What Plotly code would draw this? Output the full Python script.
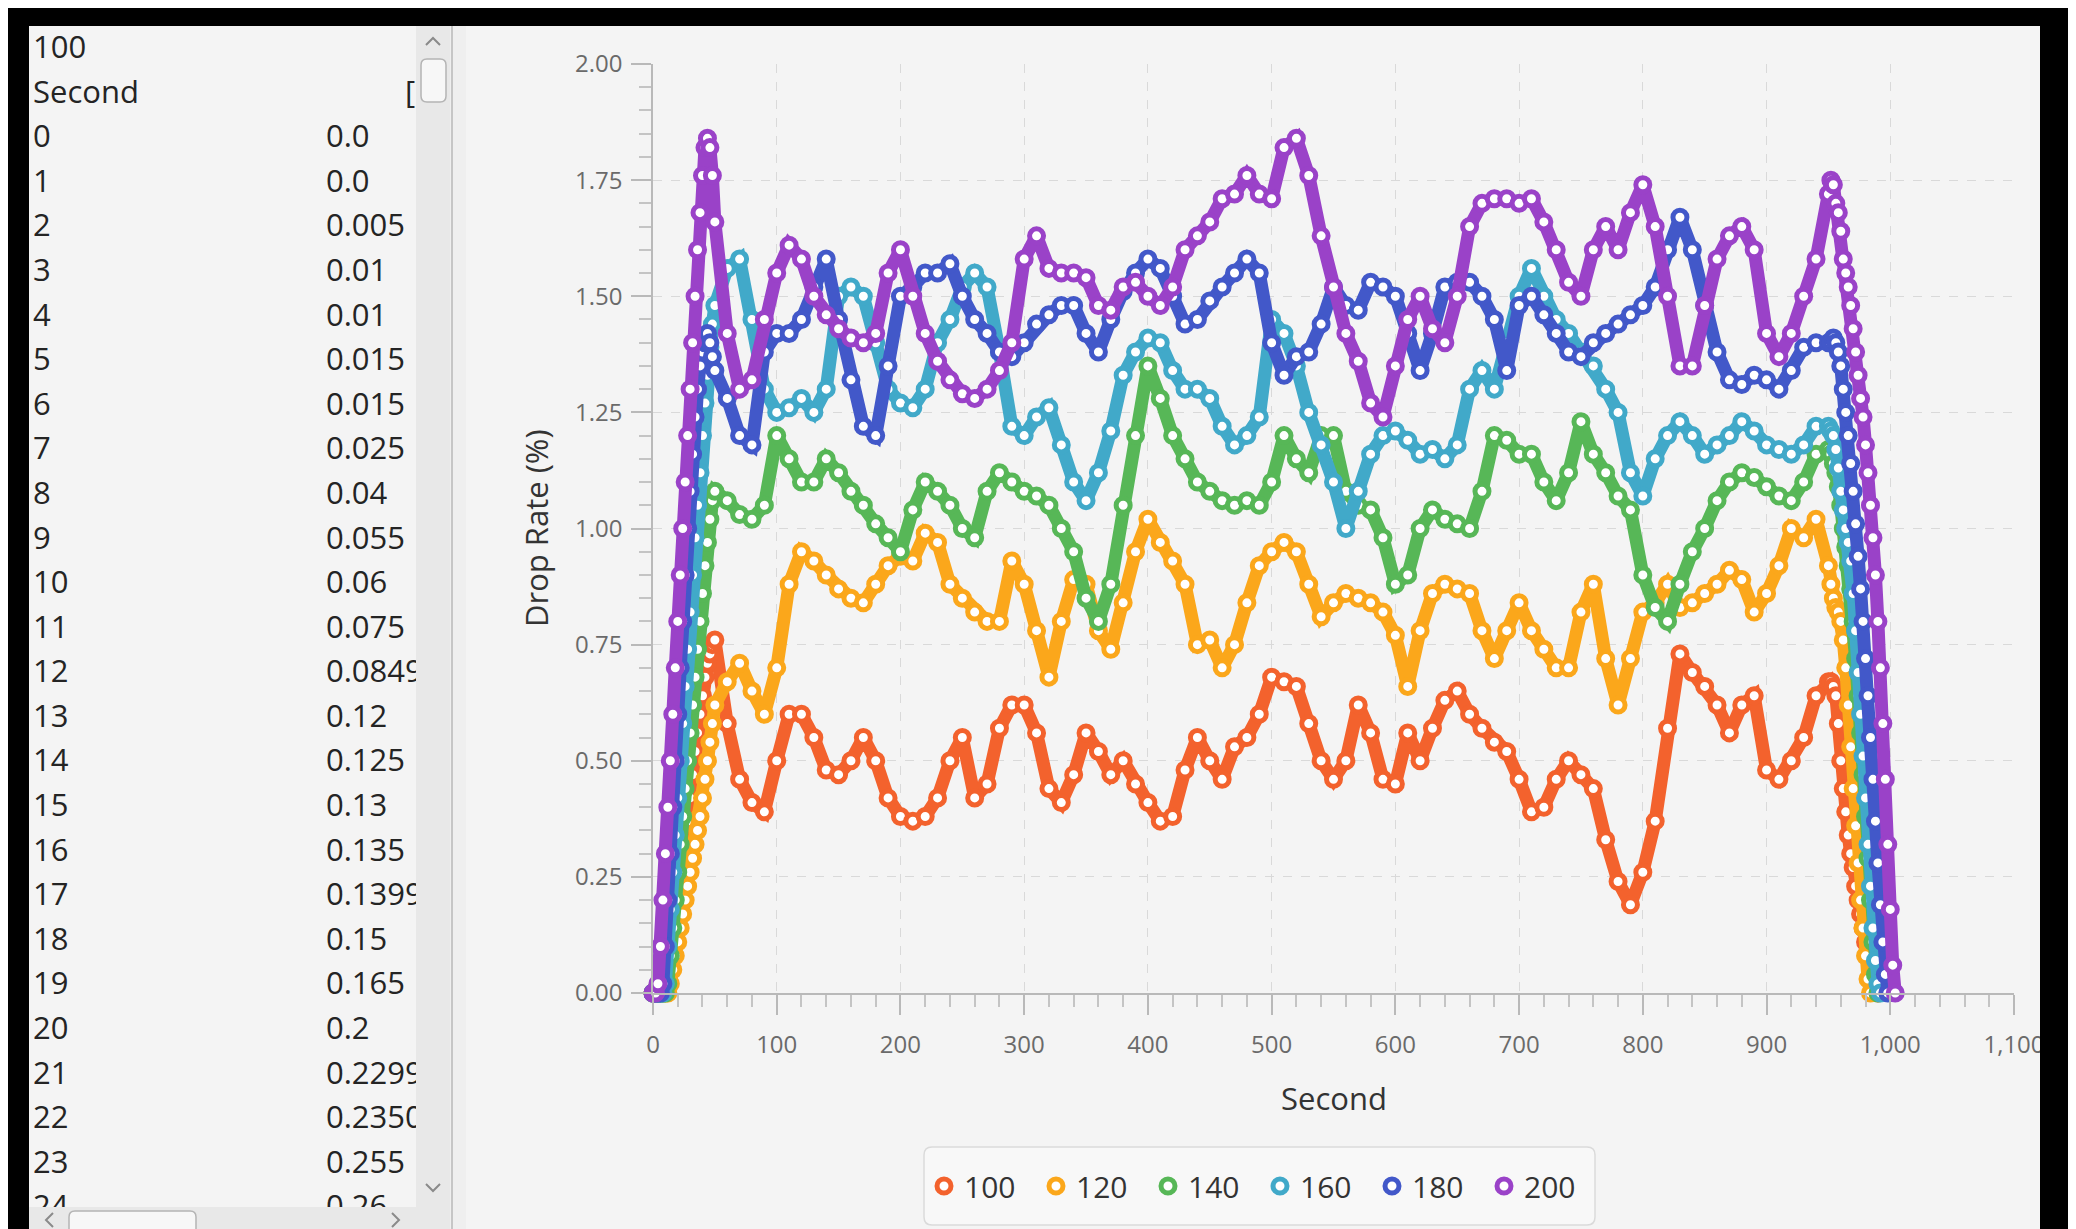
import plotly.graph_objects as go

W, H = 2076, 1229
OFF = 8  # the page body margin shifts the figure by 8 px; layout below is given in page pixels

# ---------------- data ----------------
# sampling: 2 s during ramp-up, 10 s in the middle, 2 s during ramp-down
seconds = list(range(0, 50, 2)) + list(range(50, 950, 10)) + list(range(950, 1005, 2))

series_names = ["100", "120", "140", "160", "180", "200"]
series_colors = ["#f3622d", "#fba71b", "#57b757", "#41a9c9", "#4258c9", "#9a42c8"]

drop_100 = [
    0.0, 0.005, 0.01, 0.015, 0.04, 0.06, 0.0849, 0.125, 0.135, 0.15, 0.2, 0.235, 0.26,
    0.32, 0.37, 0.42, 0.47, 0.52, 0.56, 0.6, 0.64, 0.68, 0.71, 0.73, 0.75,
    0.76, 0.58, 0.46, 0.41, 0.39, 0.5, 0.6, 0.6, 0.55, 0.48,
    0.47, 0.5, 0.55, 0.5, 0.42, 0.38, 0.37, 0.38, 0.42, 0.5,
    0.55, 0.42, 0.45, 0.57, 0.62, 0.62, 0.56, 0.44, 0.41, 0.47,
    0.56, 0.52, 0.47, 0.5, 0.45, 0.41, 0.37, 0.38, 0.48, 0.55,
    0.5, 0.46, 0.53, 0.55, 0.6, 0.68, 0.67, 0.66, 0.58, 0.5,
    0.46, 0.5, 0.62, 0.56, 0.46, 0.45, 0.56, 0.5, 0.57, 0.63,
    0.65, 0.6, 0.57, 0.54, 0.52, 0.46, 0.39, 0.4, 0.46, 0.5,
    0.47, 0.44, 0.33, 0.24, 0.19, 0.26, 0.37, 0.57, 0.73, 0.69,
    0.66, 0.62, 0.56, 0.62, 0.64, 0.48, 0.46, 0.5, 0.55, 0.64,
    0.67, 0.67, 0.66, 0.64, 0.58, 0.5, 0.44, 0.39, 0.34, 0.3, 0.27, 0.23, 0.2, 0.17,
    0.14, 0.11, 0.08, 0.06, 0.04, 0.02, 0.0, None, None, None, None, None, None, None,
]
drop_120 = [
    0, 0, 0, 0, 0, 0, 0, 0.02, 0.05, 0.08, 0.11, 0.14, 0.17,
    0.2, 0.23, 0.26, 0.29, 0.32, 0.35, 0.38, 0.42, 0.46, 0.5, 0.54, 0.58,
    0.62, 0.67, 0.71, 0.65, 0.6, 0.7, 0.88, 0.95, 0.93, 0.9,
    0.87, 0.85, 0.84, 0.88, 0.92, 0.94, 0.93, 0.99, 0.97, 0.88,
    0.85, 0.82, 0.8, 0.8, 0.93, 0.88, 0.78, 0.68, 0.8, 0.89,
    0.88, 0.78, 0.74, 0.84, 0.95, 1.02, 0.97, 0.93, 0.88, 0.75,
    0.76, 0.7, 0.75, 0.84, 0.92, 0.95, 0.97, 0.95, 0.88, 0.81,
    0.84, 0.86, 0.85, 0.84, 0.82, 0.77, 0.66, 0.78, 0.86, 0.88,
    0.87, 0.86, 0.78, 0.72, 0.78, 0.84, 0.78, 0.74, 0.7, 0.7,
    0.82, 0.88, 0.72, 0.62, 0.72, 0.82, 0.84, 0.88, 0.83, 0.84,
    0.86, 0.88, 0.91, 0.89, 0.82, 0.86, 0.92, 1.0, 0.98, 1.02,
    0.92, 0.88, 0.85, 0.83, 0.82, 0.8, 0.76, 0.7, 0.62, 0.53, 0.44, 0.36, 0.28, 0.2,
    0.14, 0.08, 0.03, 0.0, None, None, None, None, None, None, None, None, None, None,
]
drop_140 = [
    0, 0, 0, 0, 0, 0, 0.02, 0.08, 0.14, 0.2, 0.26, 0.32, 0.38,
    0.44, 0.5, 0.56, 0.62, 0.68, 0.74, 0.8, 0.86, 0.92, 0.97, 1.02, 1.06,
    1.08, 1.06, 1.03, 1.02, 1.05, 1.2, 1.15, 1.1, 1.1, 1.15,
    1.12, 1.08, 1.05, 1.01, 0.98, 0.95, 1.04, 1.1, 1.08, 1.05,
    1.0, 0.98, 1.08, 1.12, 1.1, 1.08, 1.07, 1.05, 1.0, 0.95,
    0.85, 0.8, 0.88, 1.05, 1.2, 1.35, 1.28, 1.2, 1.15, 1.1,
    1.08, 1.06, 1.05, 1.06, 1.05, 1.1, 1.2, 1.15, 1.12, 1.2,
    1.2, 1.08, 1.05, 1.04, 0.98, 0.88, 0.9, 1.0, 1.04, 1.02,
    1.01, 1.0, 1.08, 1.2, 1.19, 1.16, 1.16, 1.1, 1.06, 1.12,
    1.23, 1.16, 1.12, 1.07, 1.04, 0.9, 0.83, 0.8, 0.88, 0.95,
    1.0, 1.06, 1.1, 1.12, 1.11, 1.09, 1.07, 1.06, 1.1, 1.16,
    1.17, 1.16, 1.14, 1.12, 1.09, 1.05, 1.0, 0.96, 0.92, 0.87, 0.8, 0.72, 0.64, 0.56,
    0.47, 0.38, 0.29, 0.2, 0.11, 0.04, 0.0, None, None, None, None, None, None, None,
]
drop_160 = [
    0, 0, 0, 0, 0, 0.02, 0.1, 0.18, 0.26, 0.34, 0.42, 0.5, 0.58,
    0.66, 0.74, 0.82, 0.9, 0.98, 1.05, 1.12, 1.2, 1.27, 1.33, 1.39, 1.44,
    1.48, 1.56, 1.58, 1.45, 1.3, 1.25, 1.26, 1.28, 1.25, 1.3,
    1.5, 1.52, 1.5, 1.4, 1.3, 1.27, 1.26, 1.3, 1.4, 1.45,
    1.52, 1.55, 1.52, 1.38, 1.22, 1.2, 1.24, 1.26, 1.18, 1.1,
    1.06, 1.12, 1.21, 1.33, 1.38, 1.41, 1.4, 1.34, 1.3, 1.3,
    1.28, 1.22, 1.18, 1.2, 1.24, 1.45, 1.42, 1.35, 1.25, 1.18,
    1.1, 1.0, 1.08, 1.16, 1.2, 1.21, 1.19, 1.16, 1.17, 1.15,
    1.18, 1.3, 1.34, 1.3, 1.4, 1.5, 1.56, 1.5, 1.45, 1.42,
    1.38, 1.35, 1.3, 1.25, 1.12, 1.07, 1.15, 1.2, 1.23, 1.2,
    1.16, 1.18, 1.2, 1.23, 1.21, 1.18, 1.17, 1.16, 1.18, 1.22,
    1.22, 1.21, 1.2, 1.17, 1.13, 1.08, 1.04, 1.0, 0.97, 0.93, 0.86, 0.78, 0.69, 0.6,
    0.51, 0.42, 0.32, 0.23, 0.14, 0.07, 0.02, 0.0, None, None, None, None, None, None,
]
drop_180 = [
    0, 0, 0, 0, 0.02, 0.1, 0.2, 0.3, 0.4, 0.5, 0.6, 0.7, 0.8,
    0.9, 1.0, 1.08, 1.16, 1.24, 1.3, 1.35, 1.38, 1.4, 1.42, 1.4, 1.37,
    1.34, 1.28, 1.2, 1.18, 1.38, 1.42, 1.42, 1.45, 1.52, 1.58,
    1.45, 1.32, 1.22, 1.2, 1.35, 1.5, 1.52, 1.55, 1.55, 1.57,
    1.5, 1.45, 1.42, 1.38, 1.37, 1.4, 1.44, 1.46, 1.48, 1.48,
    1.42, 1.38, 1.45, 1.51, 1.55, 1.58, 1.56, 1.5, 1.44, 1.45,
    1.49, 1.52, 1.55, 1.58, 1.55, 1.4, 1.33, 1.37, 1.38, 1.44,
    1.52, 1.48, 1.47, 1.53, 1.52, 1.5, 1.42, 1.34, 1.42, 1.52,
    1.53, 1.53, 1.5, 1.45, 1.34, 1.48, 1.5, 1.46, 1.42, 1.38,
    1.37, 1.4, 1.42, 1.44, 1.46, 1.48, 1.52, 1.6, 1.67, 1.6,
    1.48, 1.38, 1.32, 1.31, 1.33, 1.32, 1.3, 1.34, 1.39, 1.4,
    1.4, 1.4, 1.41, 1.4, 1.38, 1.35, 1.3, 1.25, 1.2, 1.14, 1.08, 1.01, 0.94, 0.87,
    0.8, 0.72, 0.64, 0.55, 0.46, 0.37, 0.28, 0.19, 0.11, 0.04, 0.0, None, None, None,
]
drop_200 = [
    0, 0, 0.02, 0.1, 0.2, 0.3, 0.4, 0.5, 0.6, 0.7, 0.8, 0.9, 1.0,
    1.1, 1.2, 1.3, 1.4, 1.5, 1.6, 1.68, 1.76, 1.82, 1.84, 1.82, 1.76,
    1.66, 1.42, 1.3, 1.32, 1.45, 1.55, 1.61, 1.58, 1.5, 1.46,
    1.43, 1.41, 1.4, 1.42, 1.55, 1.6, 1.5, 1.42, 1.36, 1.32,
    1.29, 1.28, 1.3, 1.34, 1.4, 1.58, 1.63, 1.56, 1.55, 1.55,
    1.54, 1.48, 1.47, 1.52, 1.53, 1.5, 1.48, 1.52, 1.6, 1.63,
    1.66, 1.71, 1.72, 1.76, 1.72, 1.71, 1.82, 1.84, 1.76, 1.63,
    1.52, 1.42, 1.36, 1.27, 1.24, 1.35, 1.45, 1.5, 1.43, 1.4,
    1.5, 1.65, 1.7, 1.71, 1.71, 1.7, 1.71, 1.66, 1.6, 1.53,
    1.5, 1.6, 1.65, 1.6, 1.68, 1.74, 1.65, 1.5, 1.35, 1.35,
    1.48, 1.58, 1.63, 1.65, 1.6, 1.42, 1.37, 1.42, 1.5, 1.58,
    1.72, 1.75, 1.74, 1.7, 1.68, 1.64, 1.58, 1.55, 1.52, 1.48, 1.43, 1.38, 1.33, 1.28,
    1.24, 1.18, 1.12, 1.05, 0.98, 0.9, 0.8, 0.7, 0.58, 0.46, 0.32, 0.18, 0.06, 0.0,
]
series_values = [drop_100, drop_120, drop_140, drop_160, drop_180, drop_200]

# table panel on the left (series "100")
table_title = "100"
table_header = "Second"
table_seconds = [str(i) for i in range(25)]
table_values = ["0.0", "0.0", "0.005", "0.01", "0.01", "0.015", "0.015", "0.025", "0.04",
                "0.055", "0.06", "0.075", "0.0849", "0.12", "0.125", "0.13", "0.135",
                "0.1399", "0.15", "0.165", "0.2", "0.2299", "0.2350", "0.255", "0.26"]

x_tick_step = 100
y_tick_step = 0.25

for v in series_values:
    assert len(v) == len(seconds), (len(v), len(seconds))

# ---------------- layout geometry (page pixels) ----------------
PL, PR, PT, PB = 653, 2014, 64, 993
FONT = "Open Sans, Noto Sans, sans-serif"
BG = "#f4f4f4"


def fx(p):  # page x -> paper fraction
    return (p - OFF) / W


def fy(p):  # page y -> paper fraction
    return 1 - (p - OFF) / H


fig = go.Figure()

for name, vals, col in zip(series_names, series_values, series_colors):
    # band standing in for the chart's dense per-second symbols
    fig.add_trace(go.Scatter(
        x=seconds, y=vals, mode="lines", name=name, legendgroup=name, showlegend=False,
        cliponaxis=False, hoverinfo="skip", xaxis="x", yaxis="y",
        line=dict(color=col, width=13),
    ))
    fig.add_trace(go.Scatter(
        x=seconds, y=vals, mode="markers", name=name, legendgroup=name, cliponaxis=False,
        xaxis="x", yaxis="y",
        marker=dict(symbol="circle", size=14, color="white",
                    line=dict(color=col, width=5)),
    ))

# table text (second axes pair spanning the whole page, in page-pixel units)
row_y0, row_dy = 50.3, 44.59
rows_left = [table_title, table_header] + table_seconds
fig.add_trace(go.Scatter(
    x=[33] * len(rows_left), y=[row_y0 + row_dy * i for i in range(len(rows_left))],
    mode="text", text=rows_left, textposition="middle right", xaxis="x2", yaxis="y2",
    showlegend=False, cliponaxis=True, hoverinfo="skip",
    textfont=dict(family=FONT, size=31, color="#242424"),
))
fig.add_trace(go.Scatter(
    x=[326] * len(table_values) + [405],
    y=[row_y0 + row_dy * (i + 2) for i in range(len(table_values))] + [row_y0 + row_dy],
    mode="text", text=table_values + ["["], textposition="middle right", xaxis="x2", yaxis="y2",
    showlegend=False, cliponaxis=True, hoverinfo="skip",
    textfont=dict(family=FONT, size=31, color="#242424"),
))


def rrect(x0, y0, x1, y1, r):
    return (f"M{x0+r},{y0} L{x1-r},{y0} Q{x1},{y0} {x1},{y0+r} L{x1},{y1-r} "
            f"Q{x1},{y1} {x1-r},{y1} L{x0+r},{y1} Q{x0},{y1} {x0},{y1-r} "
            f"L{x0},{y0+r} Q{x0},{y0} {x0+r},{y0} Z")


px = dict(xref="x2", yref="y2", layer="above")
shapes = [
    # legend box
    dict(type="path", path=rrect(924, 1147, 1595, 1225, 8), fillcolor="#f8f8f8",
         line=dict(color="#dadada", width=1.5), **px),
    # vertical scrollbar
    dict(type="rect", x0=416, y0=26, x1=450, y1=H + 20, fillcolor="#e8e8e8", line=dict(width=0), **px),
    dict(type="path", path=rrect(421, 59, 446, 102, 6), fillcolor="#f7f7f7",
         line=dict(color="#b4b4b4", width=1.5), **px),
    dict(type="path", path="M426,45 L433,38 L440,45", line=dict(color="#8a8a8a", width=2), **px),
    dict(type="path", path="M426,1184 L433,1191 L440,1184", line=dict(color="#8a8a8a", width=2), **px),
    # horizontal scrollbar
    dict(type="rect", x0=29, y0=1207, x1=416, y1=H + 20, fillcolor="#e8e8e8", line=dict(width=0), **px),
    dict(type="path", path=rrect(69, 1211, 196, 1240, 6), fillcolor="#f7f7f7",
         line=dict(color="#b4b4b4", width=1.5), **px),
    dict(type="path", path="M53,1213 L46,1220 L53,1227", line=dict(color="#8a8a8a", width=2), **px),
    dict(type="path", path="M392,1213 L399,1220 L392,1227", line=dict(color="#8a8a8a", width=2), **px),
    # split pane divider
    dict(type="rect", x0=450, y0=26, x1=466, y1=H + 20, fillcolor="#efefef", line=dict(width=0), **px),
    dict(type="line", x0=452, y0=26, x1=452, y1=H + 20, line=dict(color="#c6c6c6", width=2), **px),
    # black window borders
    dict(type="rect", x0=0, y0=0, x1=W + 20, y1=26, fillcolor="black", line=dict(width=0), **px),
    dict(type="rect", x0=0, y0=0, x1=29, y1=H + 20, fillcolor="black", line=dict(width=0), **px),
    dict(type="rect", x0=2040, y0=0, x1=W + 20, y1=H + 20, fillcolor="black", line=dict(width=0), **px),
]

axis_common = dict(
    showline=True, linecolor="#b9b9b9", linewidth=1.5,
    ticks="outside", ticklen=20, tickwidth=1.5, tickcolor="#b9b9b9",
    showgrid=True, gridcolor="#d9d9d9", gridwidth=1.3, griddash="dash",
    zeroline=False, automargin=False, fixedrange=True,
    tickfont=dict(family=FONT, size=24, color="#6a6a6a"),
)

fig.update_layout(
    width=W, height=H,
    margin=dict(l=0, r=0, t=0, b=0, pad=0),
    paper_bgcolor=BG, plot_bgcolor="rgba(0,0,0,0)",
    font=dict(family=FONT, color="#333333"),
    xaxis=dict(domain=[fx(PL), fx(PR)], range=[0, 1100], autorange=False,
               tickmode="linear", tick0=0, dtick=x_tick_step, tickformat=",d",
               ticklabelstandoff=9,
               minor=dict(ticks="outside", ticklen=12, dtick=20, tick0=0,
                          tickcolor="#c4c4c4", tickwidth=1.5, showgrid=False),
               anchor="y", **axis_common),
    yaxis=dict(domain=[fy(PB), fy(PT)], range=[0, 2], autorange=False,
               tickmode="linear", tick0=0, dtick=y_tick_step, tickformat=".2f",
               ticklabelstandoff=4,
               minor=dict(ticks="outside", ticklen=12, dtick=0.05, tick0=0,
                          tickcolor="#c4c4c4", tickwidth=1.5, showgrid=False),
               anchor="x", **axis_common),
    xaxis2=dict(domain=[0, 1], range=[OFF, W + OFF], autorange=False, visible=False,
                anchor="y2", fixedrange=True),
    yaxis2=dict(domain=[0, 1], range=[H + OFF, OFF], autorange=False, visible=False,
                anchor="x2", fixedrange=True),
    showlegend=True,
    legend=dict(orientation="h", x=fx(1260), xanchor="center", y=fy(1186),
                yanchor="middle", bgcolor="rgba(0,0,0,0)", borderwidth=0,
                font=dict(family=FONT, size=30, color="#333333"),
                itemwidth=30, entrywidth=67, traceorder="normal"),
    shapes=shapes,
    annotations=[
        dict(text="Second", x=fx((PL + PR) / 2), y=fy(1098), xref="paper", yref="paper",
             showarrow=False, font=dict(family=FONT, size=31, color="#333333"),
             xanchor="center", yanchor="middle"),
        dict(text="Drop Rate (%)", x=fx(536), y=fy(528), xref="paper", yref="paper",
             showarrow=False, textangle=-90, font=dict(family=FONT, size=31, color="#333333"),
             xanchor="center", yanchor="middle"),
    ],
)

fig.write_html("out.html")
